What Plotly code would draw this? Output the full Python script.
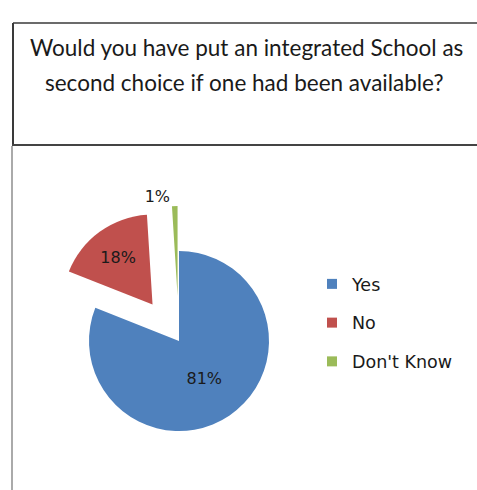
import plotly.graph_objects as go

W, H = 477, 490

labels = ["Yes", "No", "Don't Know"]
values = [81, 18, 1]
colors = ["#4F81BD", "#C0504D", "#9BBB59"]
pulls = [0, 0.5, 0.5]
text_positions = ["inside", "inside", "outside"]
title_lines = ["Would you have put an integrated School as",
               "second choice if one had been available?"]


def px(x):
    return x / W


def py(y):
    return 1 - y / H


fig = go.Figure()

fig.add_trace(go.Pie(
    labels=labels,
    values=values,
    marker=dict(colors=colors, line=dict(width=0)),
    pull=pulls,
    sort=False,
    direction="clockwise",
    rotation=0,
    textinfo="percent",
    texttemplate="%{percent:.0%}",
    textposition=text_positions,
    insidetextorientation="horizontal",
    textfont=dict(family="DejaVu Sans", size=16, color="#1a1a1a"),
    domain=dict(x=[px(44), px(314)], y=[py(476), py(206)]),
    showlegend=False,
    hoverinfo="label+percent",
))

# legend entries (separate groups so their spacing matches the reference)
for i, (lab, col) in enumerate(zip(labels, colors)):
    fig.add_trace(go.Scatter(
        x=[None], y=[None], mode="markers", name=lab,
        marker=dict(symbol="square", size=10, color=col),
        legendgroup=f"g{i}", showlegend=True,
    ))

fig.update_layout(
    width=W, height=H,
    margin=dict(l=0, r=0, t=0, b=0, autoexpand=False),
    paper_bgcolor="white",
    plot_bgcolor="white",
    xaxis=dict(visible=False),
    yaxis=dict(visible=False),
    legend=dict(
        x=px(312), y=py(266), xanchor="left", yanchor="top",
        font=dict(family="DejaVu Sans", size=17.5, color="#1a1a1a"),
        tracegroupgap=13,
        itemwidth=30,
        bgcolor="rgba(0,0,0,0)",
    ),
    shapes=[
        # title box
        dict(type="line", xref="paper", yref="paper",
             x0=px(13), y0=py(23), x1=px(490), y1=py(23),
             line=dict(color="#3a3a3a", width=1.5)),
        dict(type="line", xref="paper", yref="paper",
             x0=px(13), y0=py(23), x1=px(13), y1=py(145),
             line=dict(color="#3a3a3a", width=2)),
        dict(type="line", xref="paper", yref="paper",
             x0=px(12), y0=py(145), x1=px(490), y1=py(145),
             line=dict(color="#444444", width=2)),
        # chart area left border
        dict(type="line", xref="paper", yref="paper",
             x0=px(12), y0=py(146), x1=px(12), y1=py(500),
             line=dict(color="#aaaaaa", width=2)),
    ],
    annotations=[
        dict(text=title_lines[0], xref="paper", yref="paper",
             x=px(246), y=py(47), xanchor="center", yanchor="middle",
             showarrow=False,
             font=dict(family="Lato", size=22.5, color="#1a1a1a")),
        dict(text=title_lines[1], xref="paper", yref="paper",
             x=px(245), y=py(82), xanchor="center", yanchor="middle",
             showarrow=False,
             font=dict(family="Lato", size=22.5, color="#1a1a1a")),
    ],
)

fig.write_html(
    "out.html",
    config={"displayModeBar": False},
    post_script="document.body.style.margin='0';"
                "document.body.style.overflow='hidden';",
)
